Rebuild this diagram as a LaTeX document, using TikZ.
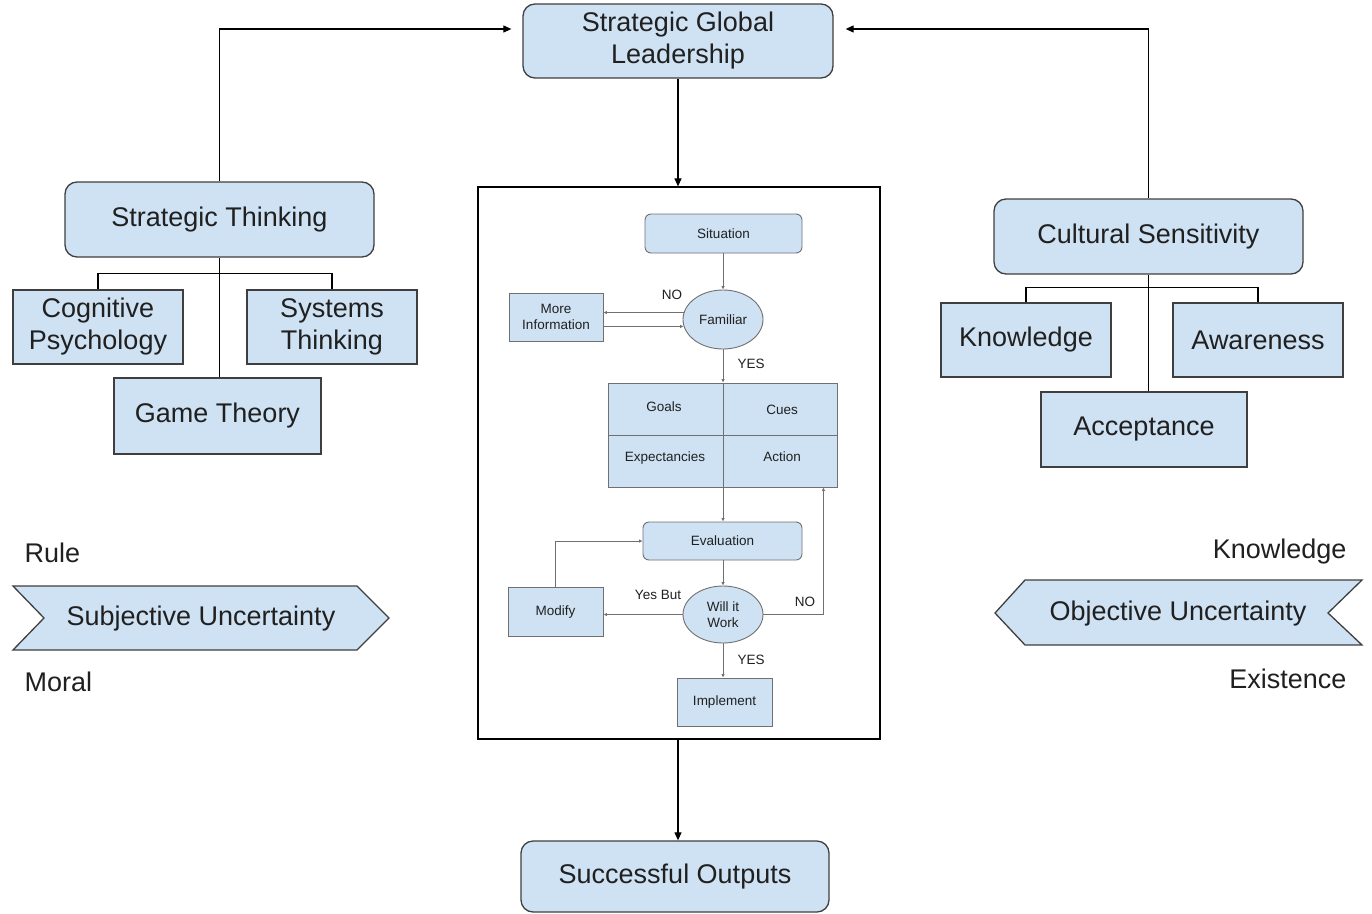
\documentclass[tikz,border=0pt]{standalone}
\usepackage{fontspec}
\setmainfont{Liberation Sans}
\usetikzlibrary{arrows.meta,shapes.geometric}
\definecolor{boxfill}{HTML}{CFE2F3}
\definecolor{boxdraw}{HTML}{3F3F3F}
\definecolor{txt}{HTML}{202020}
\definecolor{flowline}{HTML}{707070}
\tikzset{
  bigtext/.style={text=txt, font=\fontsize{27}{32}\selectfont, align=center},
  bigbox/.style={bigtext, draw=boxdraw, fill=boxfill, line width=1.3pt, inner sep=0pt},
  roundbig/.style={bigbox, rounded corners=12pt},
  smalltext/.style={text=txt, font=\fontsize{13.5}{16}\selectfont, align=center},
  smallbox/.style={smalltext, draw=flowline, fill=boxfill, line width=0.9pt, inner sep=0pt},
  roundsmall/.style={smallbox, rounded corners=6pt},
  ovalsmall/.style={smallbox, ellipse},
  mainline/.style={draw=black, line width=1.1pt},
  mainarrow/.style={mainline, -{Triangle[length=8pt,width=7pt]}},
  flowln/.style={draw=flowline, line width=0.8pt},
  flowarrow/.style={flowln, -{Latex[length=3.5pt,width=3.5pt]}},
}
\begin{document}
\begin{tikzpicture}[x=1pt,y=-1pt]
\useasboundingbox[fill=white] (0,0) rectangle (1372,913);

% main boxes
\node[roundbig, minimum width=310pt, minimum height=74pt] (SGL) at (678,41) {Strategic Global\\Leadership};
\node[draw=black, line width=1.2pt, minimum width=402pt, minimum height=552pt, inner sep=0pt] (flow) at (679,463) {};
\node[roundbig, minimum width=308pt, minimum height=71pt] (SO) at (675,876.5) {Successful Outputs};

\node[roundbig, minimum width=309pt, minimum height=75pt] (ST) at (219.5,219.5) {Strategic Thinking};
\node[bigbox, minimum width=170pt, minimum height=74pt] (CP) at (98,327) {Cognitive\\Psychology};
\node[bigbox, minimum width=170pt, minimum height=74pt] (SysT) at (332,327) {Systems\\Thinking};
\node[bigbox, minimum width=207pt, minimum height=76pt] (GT) at (217.5,416) {Game Theory};

\node[roundbig, minimum width=309pt, minimum height=75pt] (CS) at (1148.5,236.5) {Cultural Sensitivity};
\node[bigbox, minimum width=170pt, minimum height=74pt] (Kn) at (1026,340) {Knowledge};
\node[bigbox, minimum width=170pt, minimum height=74pt] (Aw) at (1258,340) {Awareness};
\node[bigbox, minimum width=206pt, minimum height=75pt] (Acc) at (1144,429.5) {Acceptance};

% chevrons
\draw[draw=boxdraw, fill=boxfill, line width=1.3pt] (13,586) -- (357,586) -- (389,618) -- (357,650) -- (13,650) -- (44,618) -- cycle;
\node[bigtext] (SU) at (201,619) {Subjective Uncertainty};
\draw[draw=boxdraw, fill=boxfill, line width=1.3pt] (995,613) -- (1025,580) -- (1362,580) -- (1328,613) -- (1362,645) -- (1025,645) -- cycle;
\node[bigtext] (OU) at (1178,614) {Objective Uncertainty};

\node[bigtext, anchor=west] (rule) at (21,553) {Rule};
\node[bigtext, anchor=west] (moral) at (21,682) {Moral};
\node[bigtext, anchor=east] (know) at (1350,552) {Knowledge};
\node[bigtext, anchor=east] (exist) at (1350,679) {Existence};

% main connectors
\draw[mainarrow, shorten >=11pt] (ST.north) |- ([yshift=12pt]SGL.west);
\draw[mainarrow, shorten >=12pt] (CS.north) |- ([yshift=12pt]SGL.east);
\draw[mainarrow] (SGL.south) -- (SGL.south |- flow.north);
\draw[mainarrow] (SGL.south |- flow.south) -- (SGL.south |- SO.north);

\draw[mainline] (ST.south) -- (ST.south |- GT.north);
\draw[mainline] (CP.north) -- ++(0,-16) -| (SysT.north);
\draw[mainline] (CS.south) -- (CS.south |- Acc.north);
\draw[mainline] (Kn.north) -- ++(0,-15) -| (Aw.north);

% flowchart
\node[roundsmall, minimum width=157pt, minimum height=39pt] (Sit) at (723.5,233.5) {Situation};
\node[ovalsmall, minimum width=80pt, minimum height=59pt] (Fam) at (723,319.5) {Familiar};
\node[smallbox, minimum width=94pt, minimum height=48pt] (MI) at (556,317) {More\\Information};
\node[smallbox, minimum width=229pt, minimum height=104pt] (Grid) at (722.5,435) {};
\draw[flowln] (Grid.west) -- (Grid.east);
\node[smalltext] (goals) at (664,407) {Goals};
\node[smalltext] (cues) at (782,410) {Cues};
\node[smalltext] (expect) at (665,458) {Expectancies};
\node[smalltext] (action) at (782,457) {Action};
\node[roundsmall, minimum width=159pt, minimum height=38pt] (Eval) at (722.5,541) {Evaluation};
\node[ovalsmall, minimum width=80pt, minimum height=57pt] (WW) at (723,614.5) {Will it\\Work};
\node[smallbox, minimum width=95pt, minimum height=49pt] (Mod) at (555.5,611.5) {Modify};
\node[smallbox, minimum width=95pt, minimum height=48pt] (Impl) at (724.5,702) {Implement};

\draw[flowarrow] (Sit.south -| Fam.north) -- (Fam.north);
\draw[flowarrow] (Fam.170) -- (Fam.170 -| MI.east);
\draw[flowarrow] (MI.east |- Fam.190) -- (Fam.190);
\draw[flowarrow] (Fam.south) -- (Fam.south |- Grid.north);
\draw[flowln] (Fam.south |- Grid.north) -- (Fam.south |- Grid.south);
\draw[flowarrow] (Fam.south |- Grid.south) -- (Fam.south |- Eval.north);
\draw[flowarrow] (Eval.south -| WW.north) -- (WW.north);
\draw[flowarrow] (WW.west) -- (WW.west -| Mod.east);
\draw[flowarrow] (Mod.north) |- (Eval.west);
\draw[flowarrow] (WW.east) -| ([xshift=-14pt]Grid.south east);
\draw[flowarrow] (WW.south) -- (WW.south |- Impl.north);

\node[smalltext] (no1) at (672,295) {NO};
\node[smalltext] (yes1) at (751,364) {YES};
\node[smalltext] (yesbut) at (658,595) {Yes But};
\node[smalltext] (no2) at (805,602) {NO};
\node[smalltext] (yes2) at (751,660) {YES};
\end{tikzpicture}
\end{document}
